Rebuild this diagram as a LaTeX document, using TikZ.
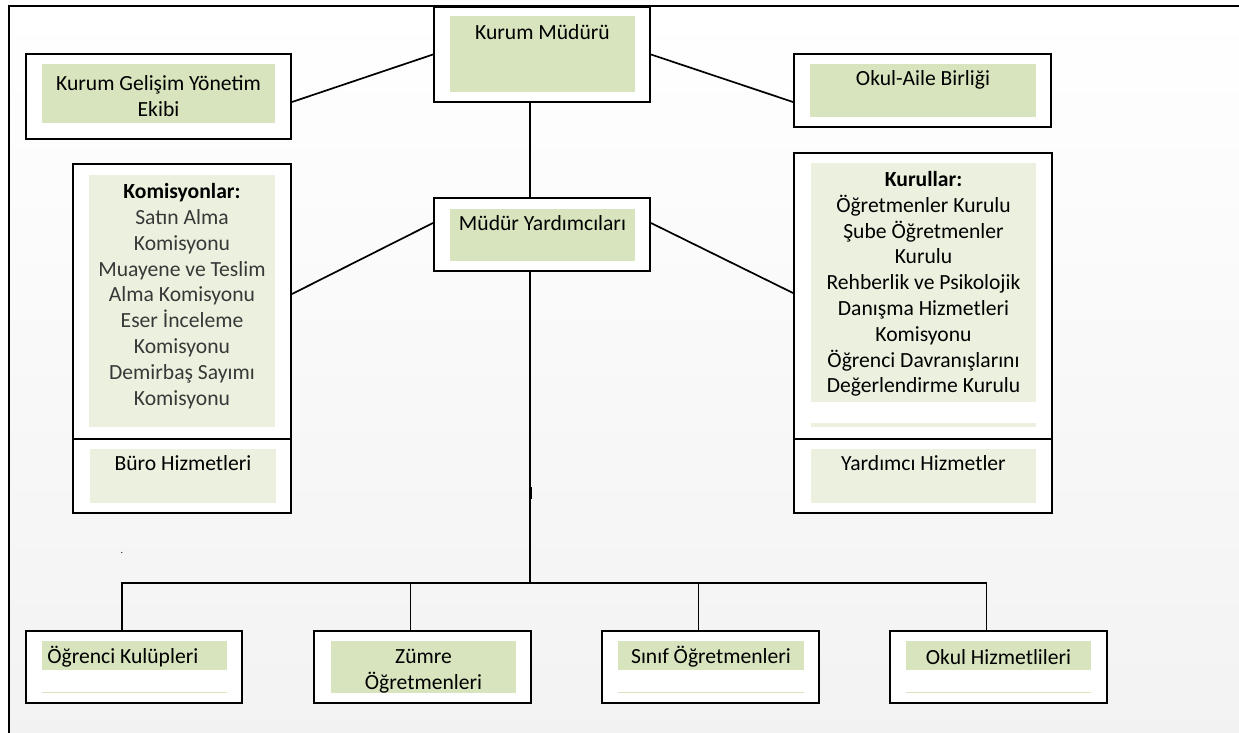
\documentclass[tikz,border=0pt]{standalone}
\usepackage{fontspec}
\setmainfont{Carlito}
\usetikzlibrary{positioning,calc}
\definecolor{greenA}{HTML}{D7E4BD}
\definecolor{greenB}{HTML}{EBF1DE}

\begin{document}
\begin{tikzpicture}[x=0.5pt,y=-0.5pt,
		box/.style={
			draw,
			line width=1pt,
			fill=white,
			inner sep=0pt
		},
		lbl/.style={
			align=center,
			inner sep=0pt,
			font=\fontsize{10.8}{12.9}\selectfont
		},
		conn/.style={line width=0.85pt}
		]
		\useasboundingbox (0,0) rectangle (1239,733);
		\shade[top color=white,bottom color=black!5] (9,6) rectangle (1239,733);
		\draw[line width=1pt] (9,733) -- (9,6) -- (1239,6);
		
		% top row
		\node[box,minimum width=132.5pt,minimum height=42.5pt] (kge) at (158.5,96.5) {};
		\node[box,minimum width=108pt,minimum height=47.5pt] (kmud) at (542,54.5) {};
		\node[box,minimum width=128.5pt,minimum height=36.5pt] (okul) at (922.5,90.5) {};
		
		% middle row
		\node[box,minimum width=109pt,minimum height=137.5pt] (kom) at (182,301.5) {};
		\node[box,minimum width=109pt,minimum height=37pt] (buro) at (182,476) {};
		\node[box,minimum width=108pt,minimum height=36.5pt] (myard) at (542,234.5) {};
		\node[box,minimum width=129pt,minimum height=143pt] (kur) at (923,296) {};
		\node[box,minimum width=129pt,minimum height=37pt] (yard) at (923,476) {};
		
		% bottom row
		\node[box,minimum width=108pt,minimum height=36pt] (ogr) at (134,667) {};
		\node[box,minimum width=108.5pt,minimum height=36pt] (zum) at (422.5,667) {};
		\node[box,minimum width=108.5pt,minimum height=36pt] (sin) at (710.5,667) {};
		\node[box,minimum width=108.5pt,minimum height=36pt] (okh) at (998.5,667) {};
		
		% connectors
		\coordinate (bus) at (530,583);
		\draw[conn] ([yshift=-2.75pt]kge.east) -- (kmud.west);
		\draw[conn] (kmud.east) -- ([yshift=-5.75pt]okul.west);
		\draw[conn] ([yshift=3.75pt]kom.east) -- ([yshift=5.75pt]myard.west);
		\draw[conn] ([yshift=5.75pt]myard.east) -- ([yshift=1.5pt]kur.west);
		\draw[conn] (kmud.south -| bus) -- (myard.north -| bus);
		\draw[conn] (myard.south -| bus) -- (bus);
		\draw[line width=1.5pt] (530,487) -- (530,499);
		\draw[conn] ([xshift=-6pt]ogr.north) |- ([xshift=-6pt]okh.north |- bus) -- ([xshift=-6pt]okh.north);
		\draw[conn] ([xshift=-6pt]zum.north) -- ([xshift=-6pt]zum.north |- bus);
		\draw[conn] ([xshift=-6pt]sin.north) -- ([xshift=-6pt]sin.north |- bus);
		
		% green panels
		\fill[greenA] (42,64) rectangle (275,123);
		\fill[greenA] (450,16) rectangle (635,92);
		\fill[greenA] (810,64) rectangle (1036,117);
		\fill[greenB] (89,175) rectangle (275,427);
		\fill[greenB] (90,449) rectangle (276,503);
		\fill[greenA] (450,209) rectangle (635,261);
		\fill[greenB] (811,163) rectangle (1036,402);
		\fill[greenB] (811,423) rectangle (1036,427);
		\fill[greenB] (811,449) rectangle (1036,503);
		\fill[greenA] (42,641) rectangle (227,670);
		\fill[greenA] (331,641) rectangle (516,693);
		\fill[greenA] (618,641) rectangle (804,670);
		\fill[greenA] (906,641) rectangle (1091,670);
		\draw[greenA,line width=0.5pt] (42,692) -- (227,692);
		\draw[greenA,line width=0.5pt] (618,692) -- (804,692);
		\draw[greenA,line width=0.5pt] (906,692) -- (1091,692);
		
		% labels
		\node[lbl] (kgeT) at (158.5,96) {Kurum Gelişim Yönetim\\Ekibi};
		\node[lbl] (kmudT) at (542.5,32) {Kurum Müdürü};
		\node[lbl] (okulT) at (923,80) {Okul-Aile Birliği};
		\node[lbl,text=black!78] (komT) at (182,296) {\textcolor{black}{\textbf{Komisyonlar:}}\\Satın Alma\\Komisyonu\\Muayene ve Teslim\\Alma Komisyonu\\Eser İnceleme\\Komisyonu\\Demirbaş Sayımı\\Komisyonu};
		\node[lbl] (buroT) at (183,463) {Büro Hizmetleri};
		\node[lbl] (myardT) at (542.5,223) {Müdür Yardımcıları};
		\node[lbl] (kurT) at (923.5,284) {\textbf{Kurullar:}\\Öğretmenler Kurulu\\Şube Öğretmenler\\Kurulu\\Rehberlik ve Psikolojik\\Danışma Hizmetleri\\Komisyonu\\Öğrenci Davranışlarını\\Değerlendirme Kurulu};
		\node[lbl] (yardT) at (923.5,463) {Yardımcı Hizmetler};
		\node[lbl,anchor=west] (ogrT) at (47,657) {Öğrenci Kulüpleri};
		\node[lbl] (zumT) at (423.5,671) {Zümre\\Öğretmenleri};
		\node[lbl] (sinT) at (711,657) {Sınıf Öğretmenleri};
		\node[lbl] (okhT) at (998.5,657) {Okul Hizmetlileri};
		\node[lbl,font=\tiny] (dot) at (122,553) {.};
		
	\end{tikzpicture}
\end{document}
